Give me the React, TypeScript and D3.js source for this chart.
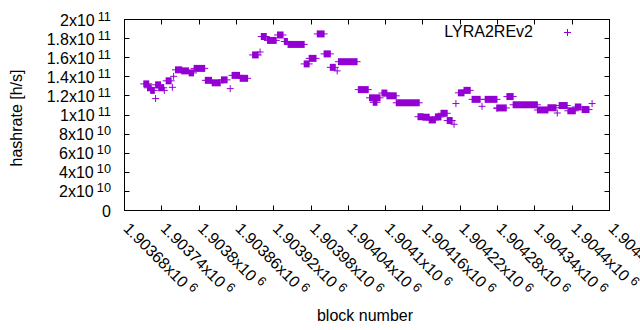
import { useRef, useEffect } from 'react'
import * as d3 from 'd3'

// runs of consecutive blocks that share (about) the same hashrate estimate
const blockFrom = [
  1903711, 1903717, 1903722, 1903730, 1903730, 1903735, 1903744, 1903747, 1903757, 1903759,
  1903762, 1903772, 1903784, 1903792, 1903810, 1903821, 1903836, 1903850, 1903853, 1903866,
  1903886, 1903898, 1903900, 1903910, 1903926, 1903937, 1903943, 1903969, 1903977, 1903990,
  1904001, 1904011, 1904022, 1904024, 1904056, 1904074, 1904080, 1904094, 1904102, 1904117,
  1904152, 1904160, 1904170, 1904180, 1904189, 1904199, 1904210, 1904213, 1904217, 1904226,
  1904239, 1904255, 1904260, 1904279, 1904279, 1904295, 1904305, 1904344, 1904361, 1904376,
  1904379, 1904393, 1904405, 1904416, 1904432,
]
const blockTo = [
  1903719, 1903723, 1903728, 1903730, 1903738, 1903743, 1903744, 1903755, 1903757, 1903759,
  1903772, 1903783, 1903791, 1903809, 1903820, 1903834, 1903845, 1903850, 1903865, 1903878,
  1903895, 1903898, 1903908, 1903924, 1903935, 1903942, 1903969, 1903977, 1903988, 1904001,
  1904011, 1904019, 1904022, 1904054, 1904072, 1904091, 1904086, 1904102, 1904117, 1904154,
  1904160, 1904170, 1904180, 1904189, 1904199, 1904207, 1904210, 1904213, 1904226, 1904236,
  1904252, 1904255, 1904279, 1904279, 1904294, 1904305, 1904344, 1904361, 1904374, 1904376,
  1904392, 1904405, 1904414, 1904427, 1904432,
]
// h/s
const hashrate = [
  1.326e11, 1.285e11, 1.258e11, 1.172e11, 1.316e11, 1.285e11, 1.258e11, 1.358e11, 1.29e11, 1.405e11,
  1.473e11, 1.462e11, 1.441e11, 1.488e11, 1.363e11, 1.337e11, 1.368e11, 1.276e11, 1.415e11, 1.384e11,
  1.629e11, 1.66e11, 1.822e11, 1.781e11, 1.838e11, 1.77e11, 1.739e11, 1.535e11, 1.593e11, 1.849e11,
  1.64e11, 1.499e11, 1.462e11, 1.558e11, 1.266e11, 1.18e11, 1.133e11, 1.23e11, 1.201e11, 1.128e11,
  0.982e11, 0.977e11, 0.948e11, 0.98e11, 1.018e11, 0.942e11, 0.903e11, 1.12e11, 1.232e11, 1.258e11,
  1.164e11, 1.091e11, 1.164e11, 1.07e11, 1.074e11, 1.193e11, 1.107e11, 1.053e11, 1.076e11, 1.021e11,
  1.099e11, 1.044e11, 1.084e11, 1.057e11, 1.12e11,
]

const xTicks = [
  1903680, 1903740, 1903800, 1903860, 1903920, 1903980, 1904040,
  1904100, 1904160, 1904220, 1904280, 1904340, 1904400, 1904460,
]
const yTicks = [0, 2e10, 4e10, 6e10, 8e10, 1e11, 1.2e11, 1.4e11, 1.6e11, 1.8e11, 2e11]
const seriesName = 'LYRA2REv2'

// gnuplot style "1.2x10^11"
const sciLabel = (v: number) => {
  if (v === 0) return { base: '0', exp: '' }
  const e = Math.floor(Math.log10(v))
  const m = parseFloat((v / Math.pow(10, e)).toPrecision(6))
  return { base: `${m}x10`, exp: `${e}` }
}

const App = () => {
  const svgRef = useRef<SVGSVGElement>(null)

  useEffect(() => {
    const width = 640
    const height = 330
    const left = 124.5, right = 609.5, top = 19.5, bottom = 210.5
    const color = '#9400d3'
    const font = '"Liberation Sans", Arial, sans-serif'
    const tick = 5

    const svg = d3.select(svgRef.current)
    svg.selectAll('*').remove()
    svg.attr('width', width).attr('height', height)
      .style('font-family', font).style('font-size', '16px')

    svg.append('rect').attr('width', width).attr('height', height).attr('fill', '#fff')

    const x = d3.scaleLinear().domain([xTicks[0], xTicks[xTicks.length - 1]]).range([left, right])
    const y = d3.scaleLinear().domain([0, 2e11]).range([bottom, top])

    const axes = svg.append('g').attr('stroke', '#000').attr('stroke-width', 1)

    // y ticks, mirrored on the right
    yTicks.forEach(v => {
      const yy = Math.round(y(v) - 0.5) + 0.5
      axes.append('line').attr('x1', left).attr('x2', left + tick).attr('y1', yy).attr('y2', yy)
      axes.append('line').attr('x1', right).attr('x2', right - tick).attr('y1', yy).attr('y2', yy)
      const lab = sciLabel(v)
      const t = svg.append('text').attr('x', 111).attr('y', y(v) + 6)
        .attr('text-anchor', 'end').attr('fill', '#000')
      t.append('tspan').text(lab.base)
      if (lab.exp) t.append('tspan').attr('dx', 3).attr('dy', -5).attr('font-size', 12.8).text(lab.exp)
    })

    // x ticks, mirrored on top
    xTicks.forEach(v => {
      const xx = Math.round(x(v) - 0.5) + 0.5
      axes.append('line').attr('x1', xx).attr('x2', xx).attr('y1', bottom).attr('y2', bottom - tick)
      axes.append('line').attr('x1', xx).attr('x2', xx).attr('y1', top).attr('y2', top + tick)
      const lab = sciLabel(v)
      const t = svg.append('text')
        .attr('transform', `translate(${x(v) - 2},${bottom + 19}) rotate(45)`)
        .attr('fill', '#000')
      t.append('tspan').text(lab.base)
      t.append('tspan').attr('dx', 4).attr('dy', -5).attr('font-size', 12.8).text(lab.exp)
    })

    // border
    axes.append('rect').attr('x', left).attr('y', top)
      .attr('width', right - left).attr('height', bottom - top).attr('fill', 'none')

    // axis titles
    svg.append('text').attr('x', 365).attr('y', 321).attr('text-anchor', 'middle')
      .attr('fill', '#000').text('block number')
    svg.append('text').attr('transform', 'translate(22,118) rotate(-90)')
      .attr('text-anchor', 'middle').attr('fill', '#000').text('hashrate [h/s]')

    // data: each run of "+" marks overlaps into a solid band
    const pts = svg.append('g').attr('fill', color)
    hashrate.forEach((h, i) => {
      const x1 = x(blockFrom[i])
      const x2 = x(blockTo[i])
      const yy = y(h)
      pts.append('rect').attr('x', x1 - 0.5).attr('width', x2 - x1 + 1)
        .attr('y', yy - 3.5).attr('height', 7)
      pts.append('rect').attr('x', x1 - 3.5).attr('width', x2 - x1 + 7)
        .attr('y', yy - 0.5).attr('height', 1)
    })

    // key
    svg.append('text').attr('x', 533).attr('y', 37).attr('text-anchor', 'end')
      .attr('fill', '#000').text(seriesName)
    const kx = 567.5, ky = 32.5
    svg.append('path').attr('d', `M${kx - 3.5},${ky}H${kx + 3.5}M${kx},${ky - 3.5}V${ky + 3.5}`)
      .attr('stroke', color).attr('stroke-width', 1)
  }, [])

  return (
    <svg ref={svgRef} style={{ position: 'absolute', left: 0, top: 0 }}></svg>
  )
}

export default App
